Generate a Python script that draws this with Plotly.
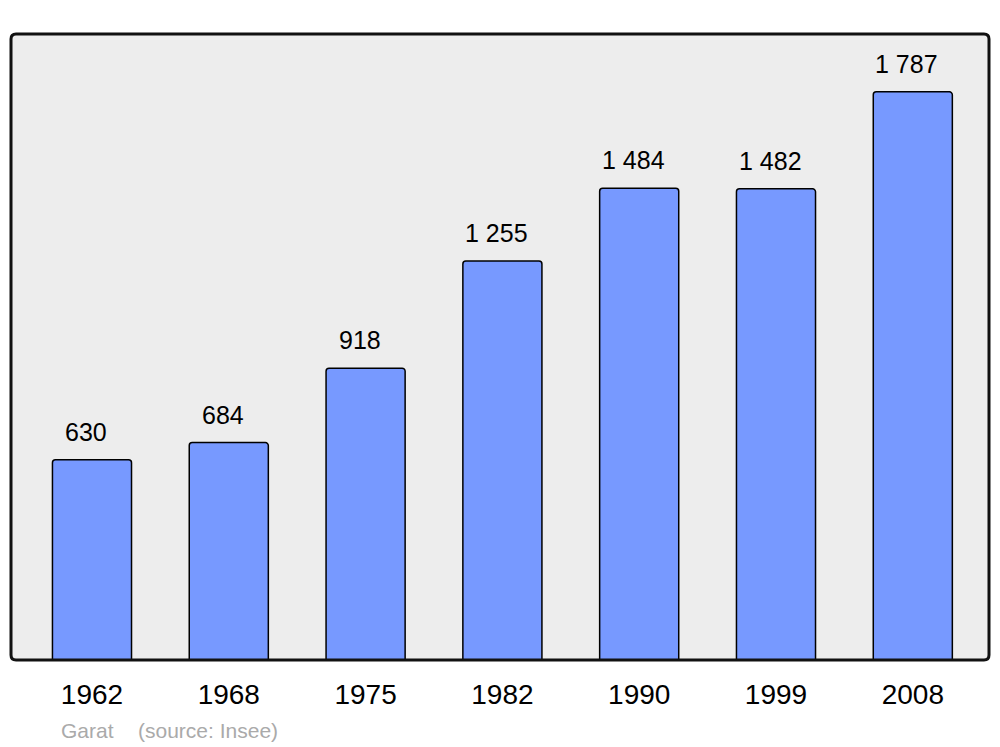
import plotly.graph_objects as go

years = ["1962", "1968", "1975", "1982", "1990", "1999", "2008"]
population = [630, 684, 918, 1255, 1484, 1482, 1787]
value_labels = ["630", "684", "918", "1 255", "1 484", "1 482", "1 787"]
commune = "Garat"
source = "(source: Insee)"

W, H = 1000, 747
ml, mt, mr, mb = 11, 34, 11, 87
pw, ph = W - ml - mr, H - mt - mb

FONT = "Liberation Sans, Arial, sans-serif"

fig = go.Figure()
fig.add_trace(go.Bar(
    x=list(range(len(years))), y=population,
    marker=dict(color="#7799ff", line=dict(color="#000000", width=1.5), cornerradius=3),
    hoverinfo="skip",
))

for i, (v, t) in enumerate(zip(population, value_labels)):
    fig.add_annotation(x=i, y=v, text=t, showarrow=False, yshift=28, xshift=-6,
                       yanchor="middle",
                       font=dict(family=FONT, size=25, color="#000"))

# rounded border around plot area
r = 5
rx, ry = r / pw, r / ph
path = (f"M {rx},0 L {1-rx},0 Q 1,0 1,{ry} L 1,{1-ry} Q 1,1 {1-rx},1 "
        f"L {rx},1 Q 0,1 0,{1-ry} L 0,{ry} Q 0,0 {rx},0 Z")
fig.add_shape(type="path", xref="paper", yref="paper", path=path,
              line=dict(color="#111111", width=3), layer="above")

fy = -(730 - 660) / ph
fig.add_annotation(xref="paper", yref="paper", x=(59 - 11) / pw, y=fy,
                   xanchor="left", yanchor="middle", text=commune, showarrow=False,
                   font=dict(family=FONT, size=21, color="#aaaaaa"))
fig.add_annotation(xref="paper", yref="paper", x=(136 - 11) / pw, y=fy,
                   xanchor="left", yanchor="middle", text=source, showarrow=False,
                   font=dict(family=FONT, size=21, color="#aaaaaa"))

fig.update_layout(
    width=W, height=H, margin=dict(l=ml, r=mr, t=mt, b=mb),
    paper_bgcolor="#ffffff", plot_bgcolor="#ededed",
    bargap=0.422, showlegend=False,
    xaxis=dict(range=[-0.592, 6.557], tickmode="array", tickvals=list(range(len(years))),
               ticktext=years, showgrid=False, zeroline=False, showline=False,
               ticks="", tickfont=dict(family=FONT, size=28, color="#000"),
               ticklabelstandoff=15, fixedrange=True),
    yaxis=dict(range=[0, 1969], showgrid=False, zeroline=False, showticklabels=False,
               showline=False, fixedrange=True),
)

fig.write_html("out.html", config={"displayModeBar": False},
               post_script="document.body.style.margin='0';document.body.style.overflow='hidden';")
